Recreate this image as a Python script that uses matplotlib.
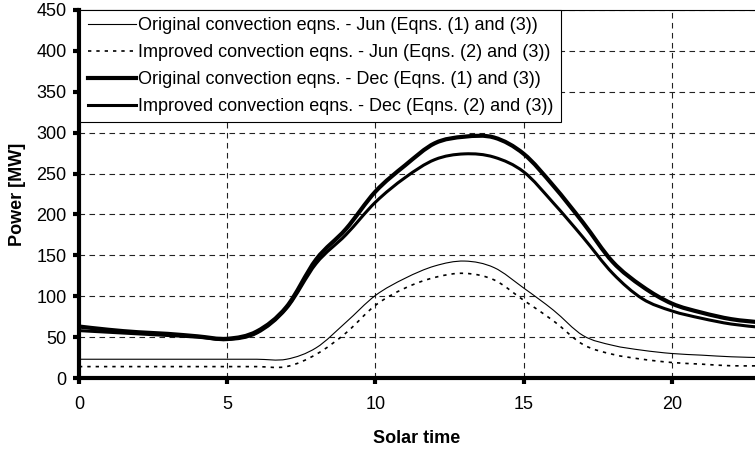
import numpy as np
import matplotlib
matplotlib.use("Agg")
import matplotlib.pyplot as plt
from matplotlib.path import Path
from matplotlib.patches import PathPatch
from matplotlib.lines import Line2D

plt.rcParams["font.family"] = ["Liberation Sans", "DejaVu Sans"]

# Solar time (hours)
hours = list(range(24))

# Power [MW]
jun_orig = [23, 23, 23, 23, 23, 23, 23, 23, 37, 68, 101, 122,
            137, 143, 135, 110, 83, 52, 40, 34, 30, 28, 26, 25]
jun_impr = [14, 14, 14, 14, 14, 14, 14, 14, 29, 55, 89, 110,
            123, 128, 120, 95, 70, 41, 29, 23, 19, 17, 15, 15]
dec_orig = [63, 59, 56, 54, 51, 48, 57, 87, 145, 182, 228, 260,
            287, 295, 294, 274, 235, 190, 142, 112, 91, 80, 72, 68]
dec_impr = [58, 56, 54, 52, 50, 47, 55, 85, 140, 175, 215, 245,
            267, 274, 270, 252, 214, 172, 128, 97, 82, 73, 66, 62]

labels = [
    "Original convection eqns. - Jun (Eqns. (1) and (3))",
    "Improved convection eqns. - Jun (Eqns. (2) and (3))",
    "Original convection eqns. - Dec (Eqns. (1) and (3))",
    "Improved convection eqns. - Dec (Eqns. (2) and (3))",
]


def smooth_path(x, y):
    # Excel-like smoothed line: cubic Bezier through the points
    pts = np.column_stack([x, y]).astype(float)
    n = len(pts)
    verts = [pts[0]]
    codes = [Path.MOVETO]
    for i in range(n - 1):
        p0 = pts[max(i - 1, 0)]
        p1 = pts[i]
        p2 = pts[i + 1]
        p3 = pts[min(i + 2, n - 1)]
        c1 = p1 + (p2 - p0) / 6.0
        c2 = p2 - (p3 - p1) / 6.0
        verts += [c1, c2, p2]
        codes += [Path.CURVE4] * 3
    return Path(verts, codes)


fig = plt.figure(figsize=(7.55, 4.49), dpi=100)
ax = fig.add_axes([0.1046, 0.158, 0.8954, 0.820])

styles = [
    dict(lw=0.8, ls="-"),
    dict(lw=1.2, ls=(0, (2, 3))),
    dict(lw=3.0, ls="-"),
    dict(lw=2.2, ls="-"),
]
series = [jun_orig, jun_impr, dec_orig, dec_impr]

handles = []
for vals, st, lab in zip(series, styles, labels):
    patch = PathPatch(smooth_path(hours, vals), fill=False, edgecolor="black",
                      lw=st["lw"], ls=st["ls"], capstyle="butt", zorder=3)
    ax.add_patch(patch)
    handles.append(Line2D([], [], color="black", lw=st["lw"], ls=st["ls"]))

ax.set_xlim(0, 22.8)
ax.set_ylim(0, 450)
ax.set_xticks([0, 5, 10, 15, 20])
ax.set_yticks(range(0, 451, 50))

ax.grid(True, color="#222222", ls=(0, (5, 4)), lw=0.8)
ax.set_axisbelow(True)

ax.spines["right"].set_visible(False)
ax.spines["left"].set_linewidth(3)
ax.spines["bottom"].set_linewidth(3)
ax.spines["top"].set_linewidth(0.8)
ax.tick_params(axis="both", direction="out", length=4, width=3,
               labelsize=13, pad=5)
ax.tick_params(axis="x", pad=9)

ax.set_xlabel("Solar time", fontsize=13, fontweight="bold")
ax.set_ylabel("Power [MW]", fontsize=13, fontweight="bold")
ax.xaxis.set_label_coords(0.5, -0.14)
ax.yaxis.set_label_coords(-0.078, 0.5)

leg = ax.legend(handles, labels, loc="upper left", bbox_to_anchor=(0.002, 1.0),
                borderaxespad=0, fontsize=13, handlelength=2.7,
                handletextpad=0.1, labelspacing=0.55, borderpad=0.4,
                fancybox=False, framealpha=1, edgecolor="black")
leg.get_frame().set_linewidth(0.8)

fig.savefig("out.png", dpi=100)
